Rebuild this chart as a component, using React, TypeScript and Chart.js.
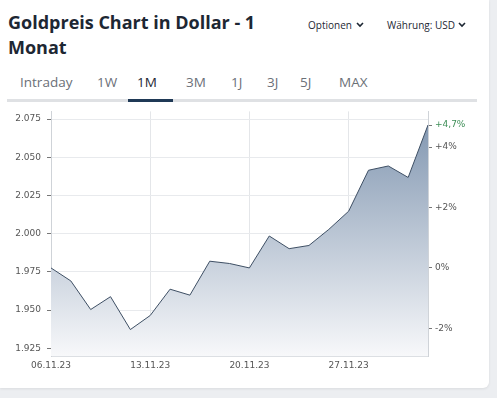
import React, { useEffect, useRef } from "react";
import { Chart, registerables } from "chart.js";

Chart.register(...registerables);

const dates = [
  "06.11.23", "07.11.23", "08.11.23", "09.11.23", "10.11.23",
  "13.11.23", "14.11.23", "15.11.23", "16.11.23", "17.11.23",
  "20.11.23", "21.11.23", "22.11.23", "23.11.23", "24.11.23",
  "27.11.23", "28.11.23", "29.11.23", "30.11.23", "01.12.23",
];
const prices = [
  1977.6, 1969.1, 1950.4, 1958.8, 1937.3,
  1946.5, 1963.7, 1959.8, 1982.0, 1980.5,
  1977.6, 1998.5, 1990.2, 1992.3, 2002.8,
  2014.7, 2041.5, 2044.3, 2036.8, 2071.1,
];
const priceTicks = [1925, 1950, 1975, 2000, 2025, 2050, 2075];
const pctTicks = [-2, 0, 2, 4];
const tabs = ["Intraday", "1W", "1M", "3M", "1J", "3J", "5J", "MAX"];
const tabLeft = [20, 97, 137, 186, 231, 267, 300, 339];

const Y_MIN = 1920;
const Y_MAX = 2080;

function fmtPct(v: number): string {
  if (Math.abs(v) < 1e-9) return "0%";
  const r = Math.round(v * 10) / 10;
  const s = Number.isInteger(r) ? String(Math.abs(r)) : Math.abs(r).toFixed(1).replace(".", ",");
  return (r > 0 ? "+" : "-") + s + "%";
}

function Chevron({ left, top }: { left: number; top: number }) {
  return (
    <svg style={{ position: "absolute", left, top }} width="8" height="6" viewBox="0 0 8 6">
      <path d="M1 1 L4 4 L7 1" fill="none" stroke="#1d2733" strokeWidth="1.6" />
    </svg>
  );
}

export default function App() {
  const ref = useRef<HTMLCanvasElement | null>(null);

  useEffect(() => {
    document.body.style.margin = "0";
    const base = prices[0];
    const last = prices[prices.length - 1];
    const lastPct = (last / base - 1) * 100;
    const chart = new Chart(ref.current as HTMLCanvasElement, {
      type: "line",
      data: {
        labels: dates,
        datasets: [
          {
            data: prices,
            borderColor: "#3e4f64",
            borderWidth: 1,
            pointRadius: 0,
            tension: 0,
            fill: "start",
            backgroundColor: (ctx: any) => {
              const ca = ctx.chart.chartArea;
              if (!ca) return "rgba(127,149,176,0.5)";
              const g = ctx.chart.ctx.createLinearGradient(0, ca.top, 0, ca.bottom);
              g.addColorStop(0, "#7d93ae");
              g.addColorStop(1, "#f7f8fa");
              return g;
            },
            yAxisID: "y",
          },
        ],
      },
      options: {
        animation: false,
        responsive: false,
        maintainAspectRatio: false,
        layout: { padding: { top: 8 } },
        plugins: { legend: { display: false }, tooltip: { enabled: false } },
        scales: {
          x: {
            type: "category",
            offset: false,
            grid: { color: "#e4e6e9", drawTicks: false },
            border: { color: "#dcdfe3" },
            ticks: {
              autoSkip: false,
              maxRotation: 0,
              padding: 4,
              color: "#555",
              font: { family: "DejaVu Sans", size: 9 },
              callback: (v: any, i: number) => (i % 5 === 0 ? dates[i] : null),
            },
            afterFit: (s: any) => {
              s.height = 32;
            },
          },
          y: {
            position: "left",
            min: Y_MIN,
            max: Y_MAX,
            grid: { color: "#e8eaed", tickColor: "#777", tickLength: 4 },
            border: { color: "#cfd3d8" },
            afterBuildTicks: (s: any) => {
              s.ticks = priceTicks.map((v) => ({ value: v }));
            },
            ticks: {
              padding: 6,
              color: "#555",
              font: { family: "DejaVu Sans", size: 9 },
              callback: (v: any) => Number(v).toLocaleString("de-DE"),
            },
            afterFit: (s: any) => {
              s.width = 51;
            },
          },
          y1: {
            position: "right",
            min: (Y_MIN / base - 1) * 100,
            max: (Y_MAX / base - 1) * 100,
            grid: { drawOnChartArea: false, tickColor: "#777", tickLength: 4 },
            border: { color: "#cfd3d8" },
            afterBuildTicks: (s: any) => {
              s.ticks = [...pctTicks, lastPct].map((v) => ({ value: v }));
            },
            ticks: {
              padding: 3,
              color: (c: any) => (c.index === pctTicks.length ? "#3f8f58" : "#555"),
              font: { family: "DejaVu Sans", size: 9 },
              callback: (v: any) => fmtPct(Number(v)),
            },
            afterFit: (s: any) => {
              s.width = 61;
            },
          },
        },
      },
    } as any);
    return () => chart.destroy();
  }, []);

  return (
    <div
      style={{
        position: "fixed",
        left: 0,
        top: 0,
        width: 497,
        height: 398,
        background: "#eceef1",
        overflow: "hidden",
        fontFamily: "'Open Sans', sans-serif",
      }}
    >
      <div
        style={{
          position: "absolute",
          left: 0,
          top: 0,
          width: 489,
          height: 388,
          background: "#fff",
          borderBottomRightRadius: 6,
          boxShadow: "0 1px 3px rgba(0,0,0,0.08)",
        }}
      >
        <div
          style={{
            position: "absolute",
            left: 8,
            top: 10,
            fontSize: 18,
            lineHeight: "25px",
            fontWeight: 700,
            color: "#1d2733",
            whiteSpace: "nowrap",
          }}
        >
          Goldpreis Chart in Dollar - 1
          <br />
          Monat
        </div>
        <div style={{ position: "absolute", left: 308, top: 17, fontSize: 10, lineHeight: "16px", color: "#1d2733" }}>
          Optionen
        </div>
        <Chevron left={356} top={22} />
        <div style={{ position: "absolute", left: 387, top: 17, fontSize: 10, lineHeight: "16px", color: "#1d2733" }}>
          Währung: USD
        </div>
        <Chevron left={458} top={22} />
        {tabs.map((t, i) => (
          <div
            key={t}
            style={{
              position: "absolute",
              left: tabLeft[i],
              top: 72,
              fontSize: 13.5,
              lineHeight: "20px",
              color: t === "1M" ? "#1d2733" : "#6b7077",
            }}
          >
            {t}
          </div>
        ))}
        <div style={{ position: "absolute", left: 7, top: 99, width: 470, height: 3, background: "#dfe1e4" }} />
        <div style={{ position: "absolute", left: 128, top: 99, width: 45, height: 3, background: "#1f3956" }} />
        <canvas
          ref={ref}
          width={489}
          height={288}
          style={{ position: "absolute", left: 0, top: 100, width: 489, height: 288 }}
        />
      </div>
    </div>
  );
}
